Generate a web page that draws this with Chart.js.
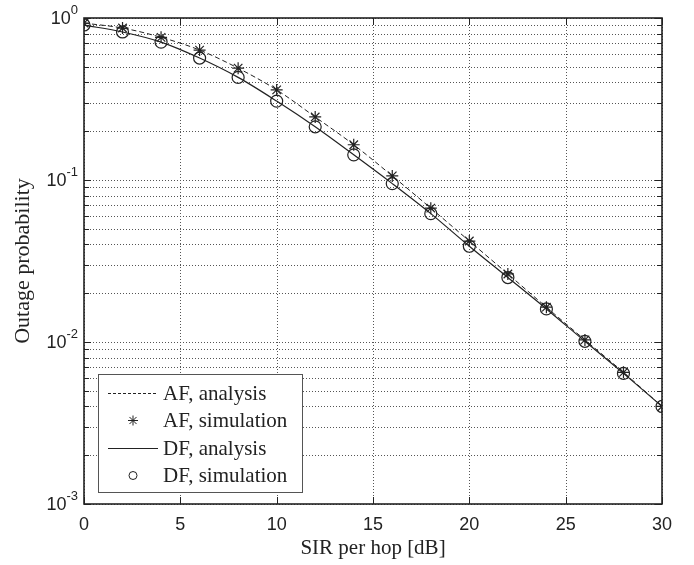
<!DOCTYPE html>
<html>
<head>
<meta charset="utf-8">
<script src="https://cdn.jsdelivr.net/npm/chart.js@4.4.0/dist/chart.umd.min.js"></script>
<style>
  html, body { margin: 0; padding: 0; background: #fff; }
  #wrap { width: 694px; height: 565px; }
</style>
</head>
<body>
<div id="wrap"><canvas id="outageChart" width="694" height="565"></canvas></div>
<script>

// SIR per hop [dB]
const sirDb = [0, 2, 4, 6, 8, 10, 12, 14, 16, 18, 20, 22, 24, 26, 28, 30];

// outage probability
const afAnalysis   = [0.93, 0.867, 0.76, 0.634, 0.49, 0.36, 0.245, 0.165, 0.106, 0.067, 0.042, 0.0263, 0.0164, 0.0103, 0.0065, 0.0040];
const afSimulation = [0.93, 0.867, 0.76, 0.634, 0.49, 0.36, 0.245, 0.165, 0.106, 0.067, 0.042, 0.0263, 0.0164, 0.0103, 0.0065, 0.0040];
const dfAnalysis   = [0.905, 0.82, 0.71, 0.566, 0.43, 0.307, 0.213, 0.143, 0.095, 0.062, 0.039, 0.025, 0.016, 0.0101, 0.0064, 0.0040];
const dfSimulation = [0.905, 0.82, 0.71, 0.566, 0.43, 0.307, 0.213, 0.143, 0.095, 0.062, 0.039, 0.025, 0.016, 0.0101, 0.0064, 0.0040];

const xTicks = [0, 5, 10, 15, 20, 25, 30];
const yPowers = [0, -1, -2, -3];

const legendItems = [
  { label: 'AF, analysis',   kind: 'dash' },
  { label: 'AF, simulation', kind: 'star' },
  { label: 'DF, analysis',   kind: 'line' },
  { label: 'DF, simulation', kind: 'circle' }
];

const INK = '#222';
const SERIF = '"Liberation Serif", "Times New Roman", serif';
const SANS = '"Liberation Sans", Arial, sans-serif';

function isDecade(v) {
  return Math.abs(Math.log10(v) - Math.round(Math.log10(v))) < 1e-6;
}

// dotted grid under the data
const gridPlugin = {
  id: 'dottedGrid',
  beforeDatasetsDraw(chart) {
    const ctx = chart.ctx;
    const xs = chart.scales.x;
    const ys = chart.scales.y;
    const a = chart.chartArea;
    ctx.save();
    ctx.strokeStyle = '#555';
    ctx.lineWidth = 1;
    ctx.setLineDash([1, 2]);
    xTicks.forEach(v => {
      const px = Math.round(xs.getPixelForValue(v)) + 0.5;
      ctx.beginPath();
      ctx.moveTo(px, a.top); ctx.lineTo(px, a.bottom);
      ctx.stroke();
    });
    ys.ticks.forEach(t => {
      const py = Math.round(ys.getPixelForValue(t.value)) + 0.5;
      ctx.beginPath();
      ctx.moveTo(a.left, py); ctx.lineTo(a.right, py);
      ctx.stroke();
    });
    ctx.restore();
  }
};

// tick labels 10^k, frame, inward ticks and legend
const decorPlugin = {
  id: 'decor',
  afterDraw(chart) {
    const ctx = chart.ctx;
    const xs = chart.scales.x;
    const ys = chart.scales.y;
    const a = chart.chartArea;
    ctx.save();

    // inward ticks
    ctx.strokeStyle = INK;
    ctx.lineWidth = 1;
    ctx.setLineDash([]);
    xTicks.forEach(v => {
      const px = Math.round(xs.getPixelForValue(v)) + 0.5;
      ctx.beginPath();
      ctx.moveTo(px, a.bottom); ctx.lineTo(px, a.bottom - 7);
      ctx.moveTo(px, a.top); ctx.lineTo(px, a.top + 7);
      ctx.stroke();
    });
    ys.ticks.forEach(t => {
      const py = Math.round(ys.getPixelForValue(t.value)) + 0.5;
      const len = isDecade(t.value) ? 7 : 5;
      ctx.beginPath();
      ctx.moveTo(a.left, py); ctx.lineTo(a.left + len, py);
      ctx.moveTo(a.right, py); ctx.lineTo(a.right - len, py);
      ctx.stroke();
    });

    // frame
    ctx.lineWidth = 1.6;
    ctx.strokeRect(a.left, a.top, a.right - a.left, a.bottom - a.top);

    // y tick labels with superscript
    ctx.fillStyle = INK;
    ctx.textAlign = 'right';
    yPowers.forEach(p => {
      const py = ys.getPixelForValue(Math.pow(10, p));
      const exp = String(p);
      ctx.font = '13px ' + SANS;
      ctx.textBaseline = 'alphabetic';
      const ew = ctx.measureText(exp).width;
      ctx.fillText(exp, 78, py - 4);
      ctx.font = '18px ' + SANS;
      ctx.textBaseline = 'middle';
      ctx.fillText('10', 78 - ew, py + 1);
    });

    // legend box
    const bx = 98, by = 374, bw = 204, bh = 118;
    ctx.fillStyle = '#fff';
    ctx.fillRect(bx, by, bw, bh);
    ctx.strokeStyle = '#555';
    ctx.lineWidth = 1;
    ctx.strokeRect(bx + 0.5, by + 0.5, bw, bh);
    ctx.font = '21px ' + SERIF;
    ctx.textAlign = 'left';
    ctx.textBaseline = 'middle';
    legendItems.forEach((item, i) => {
      const cy = by + 19 + i * 27.5;
      ctx.strokeStyle = INK;
      ctx.lineWidth = 1;
      if (item.kind === 'dash' || item.kind === 'line') {
        ctx.setLineDash(item.kind === 'dash' ? [3, 2] : []);
        ctx.beginPath();
        ctx.moveTo(108, cy + 0.5); ctx.lineTo(158, cy + 0.5);
        ctx.stroke();
        ctx.setLineDash([]);
      } else {
        ctx.fillStyle = '#fff';
        Chart.helpers.drawPoint(ctx, {
          pointStyle: item.kind === 'star' ? 'star' : 'circle',
          radius: item.kind === 'star' ? 5 : 4,
          rotation: 0,
          borderWidth: 1
        }, 133, cy);
      }
      ctx.fillStyle = INK;
      ctx.fillText(item.label, 163, cy + 1);
    });

    ctx.restore();
  }
};

new Chart(document.getElementById('outageChart'), {
  type: 'line',
  data: {
    labels: sirDb,
    datasets: [
      {
        label: 'AF, analysis',
        data: afAnalysis,
        borderColor: INK,
        borderWidth: 1,
        borderDash: [5, 3],
        pointRadius: 0,
        cubicInterpolationMode: 'monotone',
        fill: false
      },
      {
        label: 'AF, simulation',
        data: afSimulation,
        showLine: false,
        pointStyle: 'star',
        pointRadius: 6,
        pointBorderColor: INK,
        pointBorderWidth: 1.2,
        pointBackgroundColor: 'transparent'
      },
      {
        label: 'DF, analysis',
        data: dfAnalysis,
        borderColor: INK,
        borderWidth: 1.2,
        pointRadius: 0,
        cubicInterpolationMode: 'monotone',
        fill: false
      },
      {
        label: 'DF, simulation',
        data: dfSimulation,
        showLine: false,
        pointStyle: 'circle',
        pointRadius: 6,
        pointBorderColor: INK,
        pointBorderWidth: 1.2,
        pointBackgroundColor: 'transparent'
      }
    ]
  },
  options: {
    responsive: false,
    animation: false,
    devicePixelRatio: 1,
    layout: { padding: { left: 0, right: 32, top: 18, bottom: 0 } },
    plugins: {
      legend: { display: false },
      tooltip: { enabled: false }
    },
    scales: {
      x: {
        type: 'linear',
        min: 0,
        max: 30,
        afterBuildTicks: s => { s.ticks = xTicks.map(v => ({ value: v })); },
        afterFit: s => { s.height = 61; },
        grid: { display: false, drawTicks: false },
        border: { display: false },
        ticks: {
          padding: 10,
          color: INK,
          font: { family: SANS, size: 18 }
        },
        title: {
          display: true,
          text: 'SIR per hop [dB]',
          color: INK,
          font: { family: SERIF, size: 21 },
          padding: { top: 0, bottom: 4 }
        }
      },
      y: {
        type: 'logarithmic',
        min: 0.001,
        max: 1,
        afterBuildTicks: s => {
          const t = [];
          for (let k = -3; k < 0; k++) {
            for (let m = 1; m < 10; m++) t.push({ value: m * Math.pow(10, k) });
          }
          t.push({ value: 1 });
          s.ticks = t;
        },
        afterFit: s => { s.width = 84; },
        grid: { display: false, drawTicks: false },
        border: { display: false },
        ticks: { display: false },
        title: {
          display: true,
          text: 'Outage probability',
          color: INK,
          font: { family: SERIF, size: 22 },
          padding: { top: 10, bottom: 0 }
        }
      }
    }
  },
  plugins: [gridPlugin, decorPlugin]
});
</script>
</body>
</html>
